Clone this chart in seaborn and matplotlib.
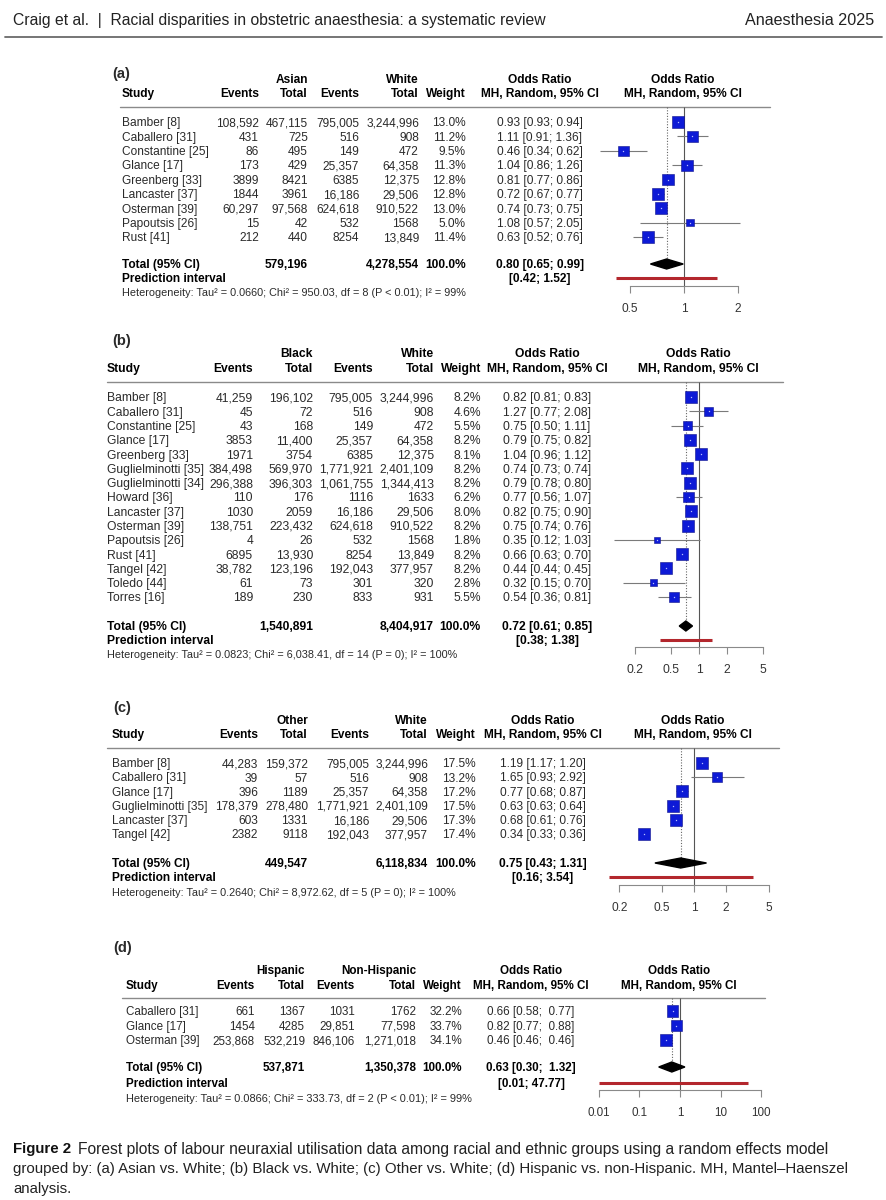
import numpy as np
import pandas as pd
import matplotlib
matplotlib.use("Agg")
import matplotlib.pyplot as plt
import seaborn as sns

sns.set_theme(style="white")
plt.rcParams['font.family'] = ['Liberation Sans', 'DejaVu Sans']

W, H = 887, 1200

# ---------------- data ----------------
# (a) Asian vs. White
studies_a = ["Bamber [8]", "Caballero [31]", "Constantine [25]", "Glance [17]", "Greenberg [33]",
             "Lancaster [37]", "Osterman [39]", "Papoutsis [26]", "Rust [41]"]
events1_a = [108592, 431, 86, 173, 3899, 1844, 60297, 15, 212]
total1_a = [467115, 725, 495, 429, 8421, 3961, 97568, 42, 440]
events2_a = [795005, 516, 149, 25357, 6385, 16186, 624618, 532, 8254]
total2_a = [3244996, 908, 472, 64358, 12375, 29506, 910522, 1568, 13849]
weight_a = [13.0, 11.2, 9.5, 11.3, 12.8, 12.8, 13.0, 5.0, 11.4]
or_a = [0.93, 1.11, 0.46, 1.04, 0.81, 0.72, 0.74, 1.08, 0.63]
lo_a = [0.93, 0.91, 0.34, 0.86, 0.77, 0.67, 0.73, 0.57, 0.52]
hi_a = [0.94, 1.36, 0.62, 1.26, 0.86, 0.77, 0.75, 2.05, 0.76]
pooled_a = [0.80, 0.65, 0.99]
pred_a = [0.42, 1.52]
sums_a = [579196, 4278554]
groups_a = ["Asian", "White"]
het_a = "Heterogeneity: Tau² = 0.0660; Chi² = 950.03, df = 8 (P < 0.01); I² = 99%"
ticks_a = [0.5, 1, 2]

# (b) Black vs. White
studies_b = ["Bamber [8]", "Caballero [31]", "Constantine [25]", "Glance [17]", "Greenberg [33]",
             "Guglielminotti [35]", "Guglielminotti [34]", "Howard [36]", "Lancaster [37]",
             "Osterman [39]", "Papoutsis [26]", "Rust [41]", "Tangel [42]", "Toledo [44]", "Torres [16]"]
events1_b = [41259, 45, 43, 3853, 1971, 384498, 296388, 110, 1030, 138751, 4, 6895, 38782, 61, 189]
total1_b = [196102, 72, 168, 11400, 3754, 569970, 396303, 176, 2059, 223432, 26, 13930, 123196, 73, 230]
events2_b = [795005, 516, 149, 25357, 6385, 1771921, 1061755, 1116, 16186, 624618, 532, 8254,
             192043, 301, 833]
total2_b = [3244996, 908, 472, 64358, 12375, 2401109, 1344413, 1633, 29506, 910522, 1568, 13849,
            377957, 320, 931]
weight_b = [8.2, 4.6, 5.5, 8.2, 8.1, 8.2, 8.2, 6.2, 8.0, 8.2, 1.8, 8.2, 8.2, 2.8, 5.5]
or_b = [0.82, 1.27, 0.75, 0.79, 1.04, 0.74, 0.79, 0.77, 0.82, 0.75, 0.35, 0.66, 0.44, 0.32, 0.54]
lo_b = [0.81, 0.77, 0.50, 0.75, 0.96, 0.73, 0.78, 0.56, 0.75, 0.74, 0.12, 0.63, 0.44, 0.15, 0.36]
hi_b = [0.83, 2.08, 1.11, 0.82, 1.12, 0.74, 0.80, 1.07, 0.90, 0.76, 1.03, 0.70, 0.45, 0.70, 0.81]
pooled_b = [0.72, 0.61, 0.85]
pred_b = [0.38, 1.38]
sums_b = [1540891, 8404917]
groups_b = ["Black", "White"]
het_b = "Heterogeneity: Tau² = 0.0823; Chi² = 6,038.41, df = 14 (P = 0); I² = 100%"
ticks_b = [0.2, 0.5, 1, 2, 5]

# (c) Other vs. White
studies_c = ["Bamber [8]", "Caballero [31]", "Glance [17]", "Guglielminotti [35]",
             "Lancaster [37]", "Tangel [42]"]
events1_c = [44283, 39, 396, 178379, 603, 2382]
total1_c = [159372, 57, 1189, 278480, 1331, 9118]
events2_c = [795005, 516, 25357, 1771921, 16186, 192043]
total2_c = [3244996, 908, 64358, 2401109, 29506, 377957]
weight_c = [17.5, 13.2, 17.2, 17.5, 17.3, 17.4]
or_c = [1.19, 1.65, 0.77, 0.63, 0.68, 0.34]
lo_c = [1.17, 0.93, 0.68, 0.63, 0.61, 0.33]
hi_c = [1.20, 2.92, 0.87, 0.64, 0.76, 0.36]
pooled_c = [0.75, 0.43, 1.31]
pred_c = [0.16, 3.54]
sums_c = [449547, 6118834]
groups_c = ["Other", "White"]
het_c = "Heterogeneity: Tau² = 0.2640; Chi² = 8,972.62, df = 5 (P = 0); I² = 100%"
ticks_c = [0.2, 0.5, 1, 2, 5]

# (d) Hispanic vs. non-Hispanic
studies_d = ["Caballero [31]", "Glance [17]", "Osterman [39]"]
events1_d = [661, 1454, 253868]
total1_d = [1367, 4285, 532219]
events2_d = [1031, 29851, 846106]
total2_d = [1762, 77598, 1271018]
weight_d = [32.2, 33.7, 34.1]
or_d = [0.66, 0.82, 0.46]
lo_d = [0.58, 0.77, 0.46]
hi_d = [0.77, 0.88, 0.46]
pooled_d = [0.63, 0.30, 1.32]
pred_d = [0.01, 47.77]
sums_d = [537871, 1350378]
groups_d = ["Hispanic", "Non-Hispanic"]
het_d = "Heterogeneity: Tau² = 0.0866; Chi² = 333.73, df = 2 (P < 0.01); I² = 99%"
ticks_d = [0.01, 0.1, 1, 10, 100]

# ---------------- layout (pixels) ----------------
lay_a = dict(name="(a)", label=(112, 73), head=(79, 93), rule=(107, 120, 770), row0=122, step=14.375,
             tot=264, pred=278, het=292, hetw=344, cols=[122, 259, 308, 359, 419, 466, 540],
             one=684, dec=179.4, axis=286, span=(590, 790), fs=8.6, hiw=4)
lay_b = dict(name="(b)", label=(112, 340), head=(353, 368), rule=(382, 107, 783), row0=397, step=14.29,
             tot=626, pred=640, het=654, hetw=351, cols=[107, 253, 313, 373, 434, 481, 547],
             one=699, dec=92.0, axis=647, span=(600, 795), fs=8.7, hiw=4)
lay_c = dict(name="(c)", label=(113, 707), head=(720, 734), rule=(748, 107, 779), row0=763, step=14.2,
             tot=863, pred=877, het=892, hetw=345, cols=[112, 258, 308, 369, 428, 476, 543],
             one=694, dec=106.6, axis=885, span=(595, 795), fs=8.6, hiw=4)
lay_d = dict(name="(d)", label=(113, 947), head=(970, 985), rule=(998, 122, 765), row0=1011, step=14.5,
             tot=1067, pred=1083, het=1098, hetw=345, cols=[126, 255, 305, 355, 416, 462, 531],
             one=680, dec=40.7, axis=1090, span=(590, 790), fs=8.4, hiw=5)

BLUE = '#0d1ad6'
DARK = '#2a2a2a'


def fmt_n(v):
    return f"{v:,}" if v >= 10000 else str(v)


def fmt_or(o, l, h, hw):
    return f"{o:.2f} [{l:.2f}; {h:{hw}.2f}]"


def base(y, fs):
    # baseline for a line of text centred on y (cap height ~0.72 em)
    return y + 0.36 * fs * 100 / 72


def draw_panel(fig, bg, df, pooled, pred, sums, groups, het, ticks, L):
    fs = L['fs']
    c_study, c_e1, c_t1, c_e2, c_t2, c_w, c_or = L['cols']
    h1, h2 = L['head']
    ry, rx0, rx1 = L['rule']
    df = df.assign(y=L['row0'] + L['step'] * np.arange(len(df)))

    bg.text(L['label'][0], base(L['label'][1], 10.5), L['name'], fontsize=10.5, fontweight='bold',
            ha='left', va='baseline', color=DARK)

    hb = dict(fontsize=fs, fontweight='bold', va='baseline', color='black')
    b1, b2 = base(h1, fs), base(h2, fs)
    bg.text(c_t1, b1, groups[0], ha='right', **hb)
    bg.text(c_t2, b1, groups[1], ha='right', **hb)
    bg.text(c_or, b1, "Odds Ratio", ha='center', **hb)
    bg.text(L['one'] - 1, b1, "Odds Ratio", ha='center', **hb)
    bg.text(c_study, b2, "Study", ha='left', **hb)
    for x, s in [(c_e1, "Events"), (c_t1, "Total"), (c_e2, "Events"), (c_t2, "Total"), (c_w, "Weight")]:
        bg.text(x, b2, s, ha='right', **hb)
    bg.text(c_or, b2, "MH, Random, 95% CI", ha='center', **hb)
    bg.text(L['one'] - 1, b2, "MH, Random, 95% CI", ha='center', **hb)
    bg.plot([rx0, rx1], [ry, ry], color='#8a8a8a', lw=1.0)

    rt = dict(fontsize=fs, va='baseline', color=DARK)
    for _, r in df.iterrows():
        y = base(r['y'], fs)
        bg.text(c_study, y, r['study'], ha='left', **rt)
        bg.text(c_e1, y, fmt_n(r['ev1']), ha='right', **rt)
        bg.text(c_t1, y, fmt_n(r['tot1']), ha='right', **rt)
        bg.text(c_e2, y, fmt_n(r['ev2']), ha='right', **rt)
        bg.text(c_t2, y, fmt_n(r['tot2']), ha='right', **rt)
        bg.text(c_w, y, f"{r['weight']:.1f}%", ha='right', **rt)
        bg.text(c_or, y, fmt_or(r['or'], r['lo'], r['hi'], L['hiw']), ha='center', **rt)

    tb = dict(fontsize=fs, fontweight='bold', va='baseline', color='black')
    bt, bp = base(L['tot'], fs), base(L['pred'], fs)
    bg.text(c_study, bt, "Total (95% CI)", ha='left', **tb)
    bg.text(c_t1, bt, fmt_n(sums[0]), ha='right', **tb)
    bg.text(c_t2, bt, fmt_n(sums[1]), ha='right', **tb)
    bg.text(c_w, bt, "100.0%", ha='right', **tb)
    bg.text(c_or, bt, fmt_or(pooled[0], pooled[1], pooled[2], L['hiw']), ha='center', **tb)
    bg.text(c_study, bp, "Prediction interval", ha='left', **tb)
    bg.text(c_or, bp, f"[{pred[0]:.2f}; {pred[1]:.2f}]", ha='center', **tb)
    fit_text(c_study, base(L['het'], fs * 0.9), het, L['hetw'], ha='left', fontsize=fs * 0.9,
             va='baseline', color=DARK)

    # forest axes, y in figure pixels
    x0, x1 = L['span']
    ax = fig.add_axes([x0 / W, 1 - L['axis'] / H, (x1 - x0) / W, (L['axis'] - ry) / H])
    ax.set_facecolor('none')
    ax.set_xscale('log')
    ax.set_xlim(10 ** ((x0 - L['one']) / L['dec']), 10 ** ((x1 - L['one']) / L['dec']))
    ax.set_ylim(L['axis'], ry)

    side = 12.0 * np.sqrt(df['weight'] / df['weight'].max())
    ax.vlines(1, ry, L['axis'], color='#555555', lw=0.8, zorder=1)
    ax.vlines(pooled[0], ry, L['tot'] - 5, color='#666666', lw=0.8, linestyles=(0, (1, 1.5)), zorder=1)
    ax.hlines(df['y'], df['lo'], df['hi'], color='#7a7a7a', lw=0.8, zorder=2)
    sns.scatterplot(data=df, x='or', y='y', marker='s', s=(side * 0.72) ** 2, color=BLUE,
                    edgecolor='#10128a', linewidth=0.4, legend=False, ax=ax, zorder=3)
    ax.plot(df['or'], df['y'], ls='none', marker='s', ms=0.9, mew=0, color='#b8c0ff', zorder=4)

    ty = L['tot']
    ax.fill([pooled[1], pooled[0], pooled[2], pooled[0]], [ty, ty - 5, ty, ty + 5], color='black', zorder=3)
    ax.hlines(L['pred'], pred[0], pred[1], color='#b3272d', lw=2.2, zorder=3)

    ax.set_xticks(ticks)
    ax.set_xticklabels([f"{t:g}" for t in ticks])
    ax.xaxis.set_minor_locator(plt.NullLocator())
    ax.set_yticks([])
    ax.set_xlabel("")
    ax.set_ylabel("")
    ax.grid(False)
    for s in ['top', 'left', 'right']:
        ax.spines[s].set_visible(False)
    ax.spines['bottom'].set_bounds(ticks[0], ticks[-1])
    ax.spines['bottom'].set_color('#8a8a8a')
    ax.spines['bottom'].set_linewidth(0.8)
    ax.tick_params(axis='x', which='major', bottom=True, direction='out', length=5, width=0.8,
                   color='#8a8a8a', labelsize=fs, labelcolor='#333333', pad=7)
    return ax


def make_df(studies, ev1, tot1, ev2, tot2, weight, orr, lo, hi):
    return pd.DataFrame({'study': studies, 'ev1': ev1, 'tot1': tot1, 'ev2': ev2, 'tot2': tot2,
                         'weight': weight, 'or': orr, 'lo': lo, 'hi': hi})


fig = plt.figure(figsize=(W / 100, H / 100), dpi=100)
fig.patch.set_facecolor('white')
bg = fig.add_axes([0, 0, 1, 1])
bg.set_xlim(0, W)
bg.set_ylim(H, 0)
bg.axis('off')

renderer = fig.canvas.get_renderer()


def fit_text(x, y, s, width, **kw):
    t = bg.text(x, y, s, **kw)
    w = t.get_window_extent(renderer).width
    t.set_fontsize(t.get_fontsize() * width / w)
    return t


NARROW = ['Liberation Sans Narrow', 'Liberation Sans', 'DejaVu Sans']
fit_text(13, 19, "Craig et al.  |  Racial disparities in obstetric anaesthesia: a systematic review", 534,
         family=NARROW, fontsize=12, va='center_baseline', ha='left', color='#222222')
fit_text(874, 19, "Anaesthesia 2025", 129, family=NARROW, fontsize=12, va='center_baseline', ha='right',
         color='#222222')
bg.plot([5, 882], [37, 37], color='#6a6a6a', lw=1.3)

draw_panel(fig, bg, make_df(studies_a, events1_a, total1_a, events2_a, total2_a, weight_a, or_a, lo_a, hi_a),
           pooled_a, pred_a, sums_a, groups_a, het_a, ticks_a, lay_a)
draw_panel(fig, bg, make_df(studies_b, events1_b, total1_b, events2_b, total2_b, weight_b, or_b, lo_b, hi_b),
           pooled_b, pred_b, sums_b, groups_b, het_b, ticks_b, lay_b)
draw_panel(fig, bg, make_df(studies_c, events1_c, total1_c, events2_c, total2_c, weight_c, or_c, lo_c, hi_c),
           pooled_c, pred_c, sums_c, groups_c, het_c, ticks_c, lay_c)
draw_panel(fig, bg, make_df(studies_d, events1_d, total1_d, events2_d, total2_d, weight_d, or_d, lo_d, hi_d),
           pooled_d, pred_d, sums_d, groups_d, het_d, ticks_d, lay_d)

# caption
cap2 = fit_text(13, 1168, "grouped by: (a) Asian vs. White; (b) Black vs. White; (c) Other vs. White; "
                "(d) Hispanic vs. non-Hispanic. MH, Mantel\u2013Haenszel", 830,
                family=NARROW, fontsize=11, va='center_baseline', ha='left', color='#222222')
cfs = cap2.get_fontsize()
fig_lbl = bg.text(13, 1148, "Figure 2", family=NARROW, fontsize=cfs, fontweight='bold',
                  va='center_baseline', ha='left', color='#111111')
x_rest = 13 + fig_lbl.get_window_extent(renderer).width + 7
fit_text(x_rest, 1148, "Forest plots of labour neuraxial utilisation data among racial and ethnic groups "
         "using a random effects model", 830 - x_rest, family=NARROW, fontsize=cfs,
         va='center_baseline', ha='left', color='#222222')
bg.text(13, 1188, "analysis.", family=NARROW, fontsize=cfs, va='center_baseline', ha='left', color='#222222')

fig.savefig("out.png", dpi=100, facecolor='white')
